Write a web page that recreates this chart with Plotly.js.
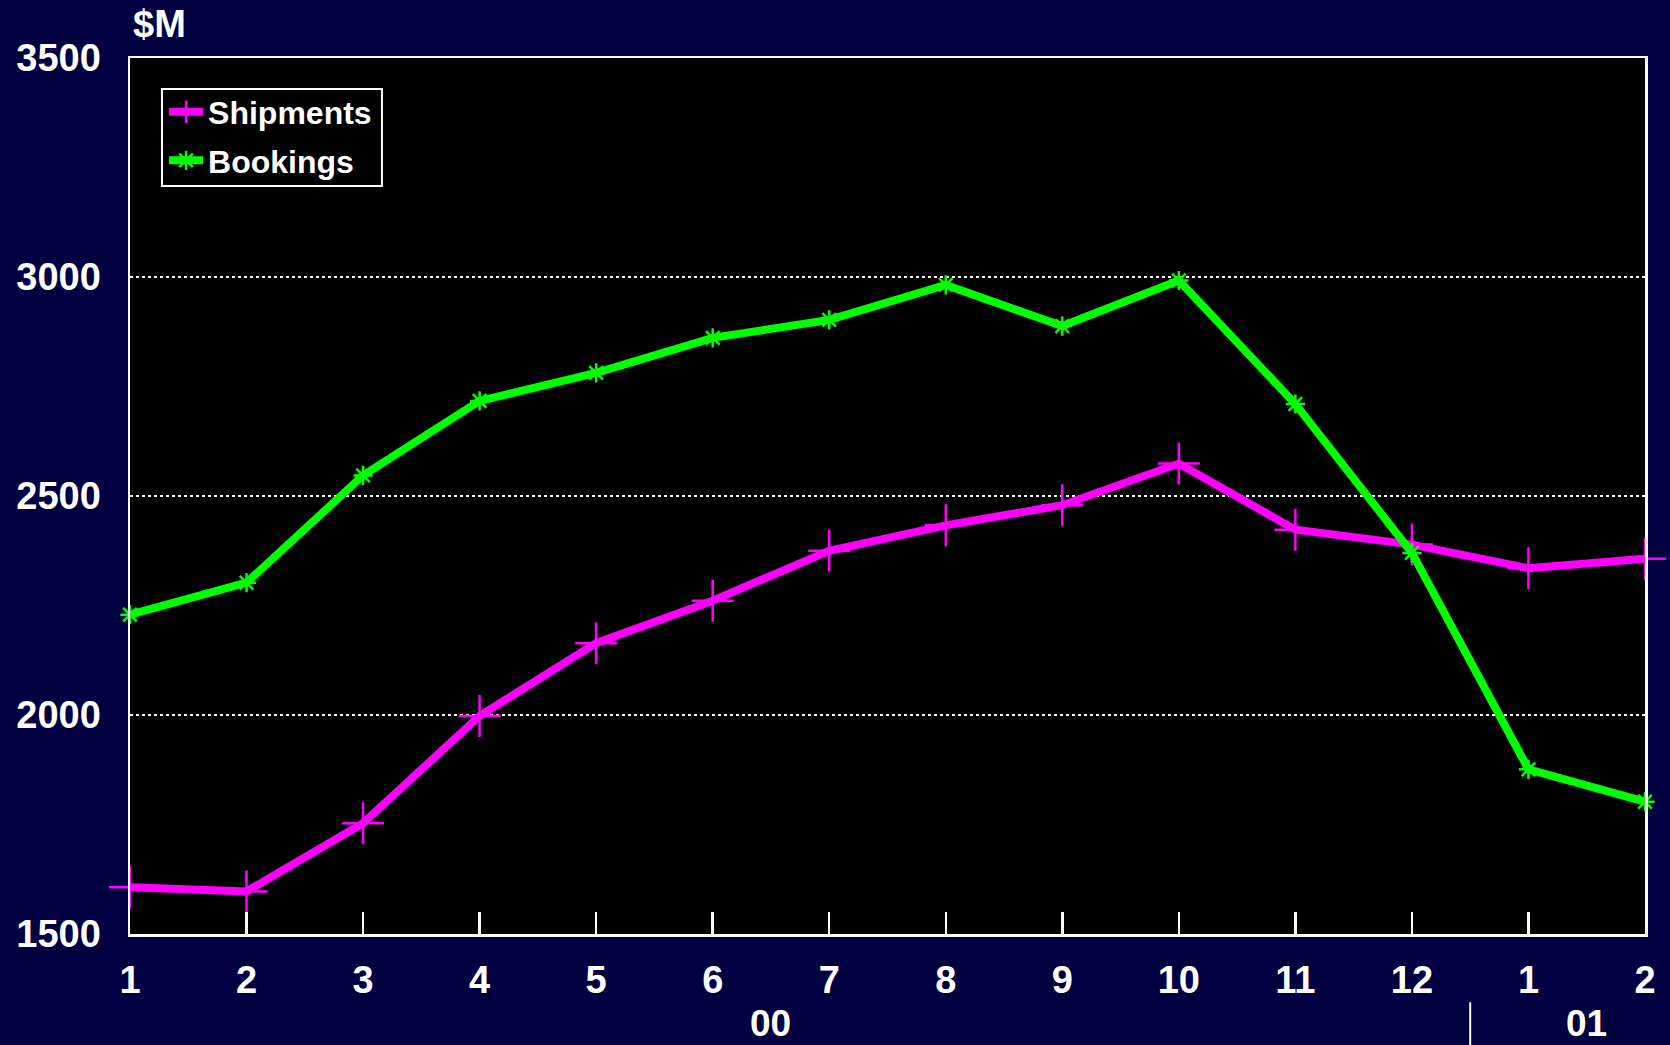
<!DOCTYPE html>
<html>
<head>
<meta charset="utf-8">
<script src="https://cdn.plot.ly/plotly-3.0.1.min.js"></script>
<style>
html,body{margin:0;padding:0;background:#000040;}
#chart{width:1670px;height:1045px;}
</style>
</head>
<body>
<div id="chart"></div>
<script>
// Months (sequential position), tick labels, year labels
const monthIndex = [1,2,3,4,5,6,7,8,9,10,11,12,13,14];
const monthLabels = ["1","2","3","4","5","6","7","8","9","10","11","12","1","2"];
const yearLabels = ["00","01"];
const yearCenters = [6.5, 13.5];
const yearSeparator = 12.5;

// $M values
const shipments = [1607,1597,1753,1998,2164,2261,2375,2433,2479,2574,2423,2389,2335,2357];
const bookings  = [2229,2302,2547,2717,2781,2861,2902,2982,2888,2992,2710,2370,1876,1802];

const yTicks = [1500,2000,2500,3000,3500];

const FONT = "Arial, 'Liberation Sans', sans-serif";
const white = "#ffffff";

const traces = [
  {
    x: monthIndex, y: shipments, name: "Shipments", mode: "lines+markers",
    legendgroup: "a",
    line: {color: "#ff00ff", width: 8},
    marker: {symbol: "cross-thin-open", size: 30, color: "#ff00ff", line: {color: "#ff00ff", width: 2.5}},
    cliponaxis: false
  },
  {
    x: monthIndex, y: bookings, name: "Bookings", mode: "lines+markers",
    legendgroup: "b",
    line: {color: "#00ff00", width: 8},
    marker: {symbol: "asterisk-open", size: 16, color: "#00ff00", line: {color: "#00ff00", width: 2.5}},
    cliponaxis: false
  }
];

const annotations = yearLabels.map((t, i) => ({
  text: t, x: yearCenters[i], xref: "x", y: -0.102, yref: "paper",
  xanchor: "center", yanchor: "middle", showarrow: false,
  font: {family: FONT, size: 37, color: white, weight: "bold"}
}));

const layout = {
  width: 1670, height: 1045,
  paper_bgcolor: "#000040",
  plot_bgcolor: "#000000",
  margin: {l: 130, r: 25, t: 58, b: 111},
  showlegend: true,
  title: {
    text: "$M", x: 133/1670, xanchor: "left", xref: "container",
    y: 1 - 24/1045, yanchor: "middle", yref: "container",
    font: {family: FONT, size: 38, color: white, weight: "bold"}
  },
  legend: {
    x: 0.0225, y: 0.9698, xanchor: "left", yanchor: "top",
    bgcolor: "rgba(0,0,0,0)", borderwidth: 0,
    font: {family: FONT, size: 32, color: white, weight: "bold"},
    tracegroupgap: 4,
    itemwidth: 34
  },
  xaxis: {
    range: [1, 14],
    tickmode: "array", tickvals: monthIndex, ticktext: monthLabels,
    ticks: "inside", ticklen: 22, tickwidth: 2.5, tickcolor: white,
    showgrid: false, zeroline: false,
    showline: true, linecolor: white, linewidth: 2.5, mirror: true,
    tickfont: {family: FONT, size: 38, color: white, weight: "bold"},
    ticklabelstandoff: 11
  },
  yaxis: {
    range: [1500, 3500],
    tickmode: "array", tickvals: yTicks,
    ticks: "",
    showgrid: true, gridcolor: white, gridwidth: 1.5, griddash: "dot",
    zeroline: false,
    showline: true, linecolor: white, linewidth: 2.5, mirror: true,
    tickfont: {family: FONT, size: 38, color: white, weight: "bold"},
    ticklabelstandoff: 19
  },
  annotations: annotations,
  shapes: [
    {
      type: "line", xref: "x", yref: "paper",
      x0: yearSeparator, x1: yearSeparator, y0: -0.078, y1: -0.13,
      line: {color: white, width: 2}
    },
    {
      type: "rect", xref: "paper", yref: "paper", layer: "above",
      x0: 0.0211, x1: 0.1663, y0: 0.8539, y1: 0.9646,
      fillcolor: "#000000", line: {color: white, width: 2}
    }
  ]
};

Plotly.newPlot("chart", traces, layout, {displayModeBar: false, staticPlot: true});
</script>
</body>
</html>
